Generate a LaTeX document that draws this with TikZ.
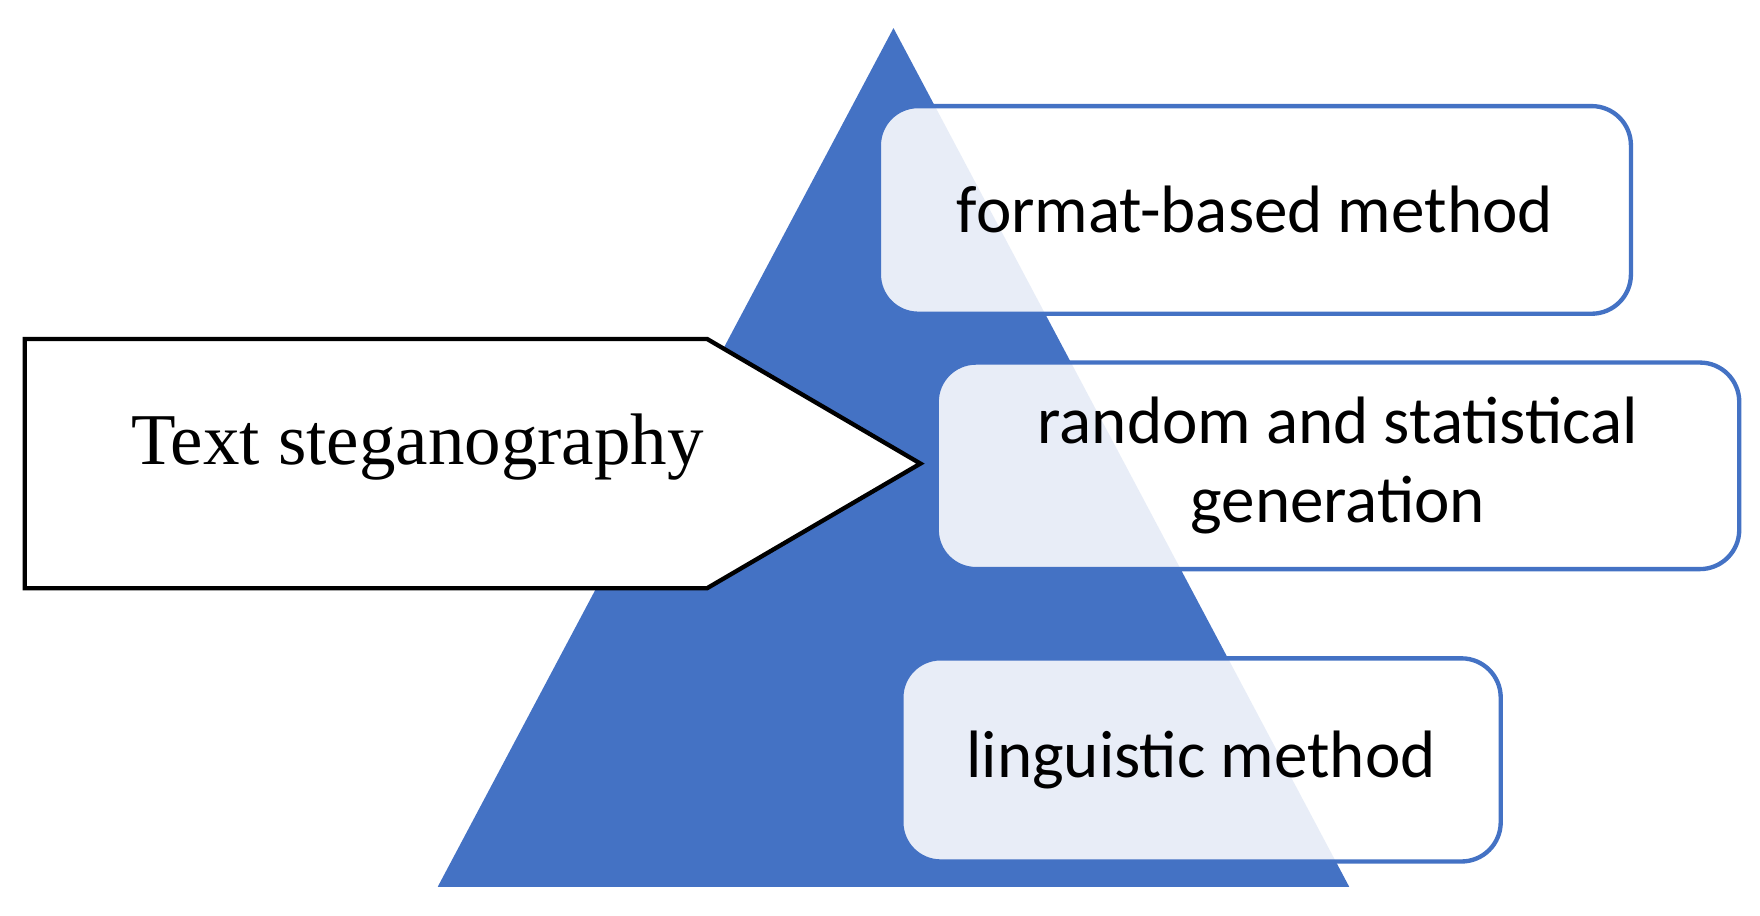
\documentclass[tikz,border=0pt]{standalone}
\usepackage{fontspec}
\setmainfont{Liberation Serif}
\newfontfamily\boxfont{Carlito}
\definecolor{pblue}{HTML}{4472C4}
\begin{document}
\begin{tikzpicture}[x=0.02cm,y=-0.02cm,
  method/.style={draw=pblue,line width=2.2pt,rounded corners=0.7cm,fill=white,fill opacity=0.88,text opacity=1,
    font=\boxfont\fontsize{34}{40}\selectfont,align=center,inner sep=0pt}]
\useasboundingbox (0,0) rectangle (1568,816);
\fill[pblue] (796,25) -- (1202,790) -- (390,790) -- cycle;
\node[method,minimum width=670*0.02cm,minimum height=185*0.02cm] (f) at (1118,187) {format-based method};
\node[method,minimum width=715*0.02cm,minimum height=184*0.02cm] (r) at (1192,415) {random and statistical\\generation};
\node[method,minimum width=534*0.02cm,minimum height=181*0.02cm] (l) at (1070,677) {linguistic method};
\draw[line width=2.2pt,fill=white] (22,302) -- (630,302) -- (820,413) -- (630,524) -- (22,524) -- cycle;
\node[font=\fontsize{37}{44}\selectfont] (t) at (372,398) {Text steganography};
\end{tikzpicture}
\end{document}
